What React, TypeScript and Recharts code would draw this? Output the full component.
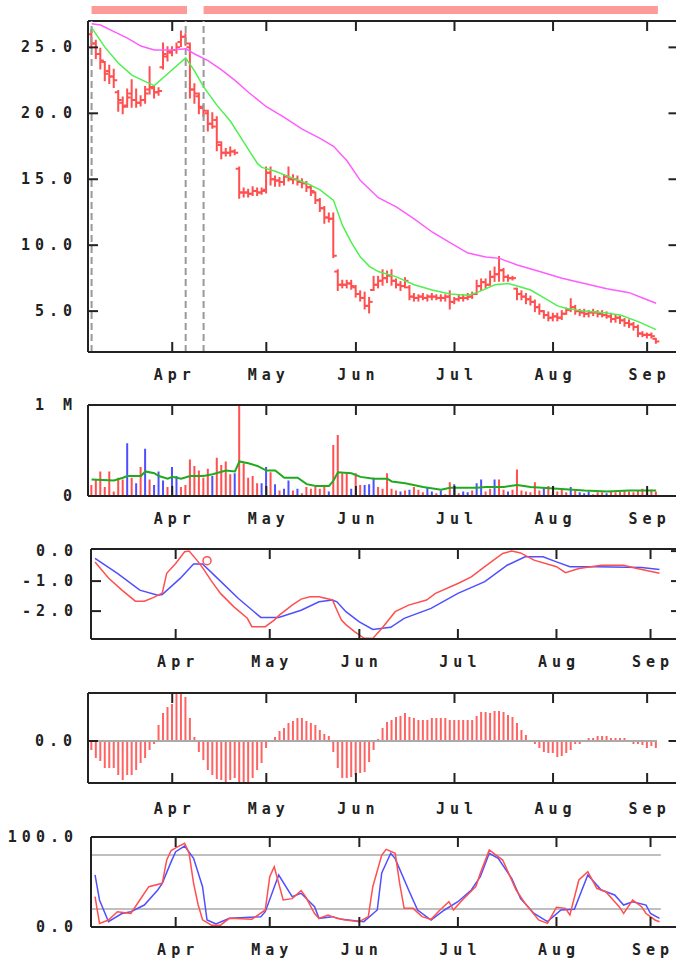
import {
  ComposedChart,
  Bar,
  Line,
  XAxis,
  YAxis,
  ReferenceLine,
  ReferenceDot,
  Cell,
} from 'recharts';

// ---- session calendar (trading-day index) ----
const monthTicks = [18, 39, 59, 81, 103, 124];
const monthNames = ['Apr', 'May', 'Jun', 'Jul', 'Aug', 'Sep'];
const periodStart = [0, 25];
const periodEnd = [21.3, 126.4];
const markerDays = [0, 21, 25];

// ---- daily prices ----
const priceOpen = [
  26.0, 25.3, 24.5, 23.9, 23.2, 22.8, 21.6, 20.8, 20.6, 21.5,
  21.0, 20.8, 21.0, 21.8, 21.9, 21.6, 23.5, 24.3, 24.6, 24.8,
  25.4, 25.8, 25.0, 21.8, 21.3, 20.4, 20.0, 19.2, 19.5, 17.6,
  17.0, 17.0, 17.1, 15.8, 14.0, 14.0, 13.9, 14.1, 14.0, 14.2,
  15.5, 15.0, 14.9, 14.8, 15.2, 15.0, 15.0, 14.8, 14.7, 14.4,
  14.0, 13.4, 12.8, 12.1, 12.0, 8.0, 7.0, 7.0, 7.1, 6.8,
  6.3, 6.0, 5.4, 6.6, 7.0, 7.3, 7.5, 7.7, 7.3, 7.0,
  6.9, 6.8, 6.1, 6.0, 6.1, 6.0, 6.1, 6.1, 6.0, 6.0,
  6.1, 5.7, 5.9, 6.0, 6.0, 6.1, 6.3, 6.9, 7.2, 7.0,
  7.6, 7.8, 8.1, 7.6, 7.5, 6.7, 6.3, 6.1, 5.9, 5.7,
  5.3, 5.0, 4.7, 4.5, 4.6, 4.5, 4.8, 5.1, 5.3, 5.0,
  4.9, 4.8, 4.9, 4.9, 4.8, 4.7, 4.6, 4.4, 4.5, 4.3,
  4.1, 4.0, 3.8, 3.3, 3.2, 3.2, 2.9,
];
const priceHigh = [
  26.3, 25.5, 24.9, 23.9, 23.6, 23.3, 21.7, 21.2, 21.8, 22.5,
  21.8, 21.3, 22.0, 23.5, 22.0, 21.9, 25.3, 25.0, 25.0, 25.3,
  26.2, 26.0, 25.3, 22.2, 21.5, 20.6, 20.2, 20.0, 19.7, 17.8,
  17.3, 17.4, 17.2, 15.9, 14.3, 14.2, 14.4, 14.3, 14.3, 15.9,
  15.9, 15.2, 15.1, 15.3, 15.9, 15.3, 15.2, 15.0, 14.8, 14.5,
  14.0, 13.5, 12.9, 12.4, 12.4, 8.1, 7.3, 7.3, 7.3, 6.9,
  6.5, 6.4, 6.0, 7.6, 7.6, 8.1, 8.0, 8.1, 7.4, 7.2,
  7.5, 6.9, 6.3, 6.2, 6.3, 6.2, 6.3, 6.2, 6.2, 6.2,
  6.5, 6.0, 6.2, 6.2, 6.3, 6.4, 7.3, 7.4, 7.4, 8.0,
  8.3, 9.1, 8.2, 7.7, 7.6, 6.7, 6.5, 6.3, 6.1, 5.8,
  5.5, 5.0, 4.9, 4.8, 4.8, 5.0, 5.2, 5.9, 5.4, 5.1,
  5.1, 5.0, 5.1, 5.0, 5.0, 4.9, 4.8, 4.7, 4.6, 4.4,
  4.3, 4.1, 3.9, 3.4, 3.3, 3.3, 2.9,
];
const priceLow = [
  25.0, 24.2, 23.4, 22.5, 22.3, 22.0, 20.2, 20.0, 20.5, 20.5,
  20.5, 20.6, 20.8, 21.5, 21.2, 21.4, 23.4, 24.0, 24.4, 24.6,
  25.1, 25.2, 21.2, 20.8, 20.0, 19.8, 18.7, 18.9, 17.2, 16.6,
  16.8, 16.8, 16.9, 13.6, 13.7, 13.7, 13.8, 13.8, 13.9, 14.0,
  14.6, 14.5, 14.5, 14.6, 14.9, 14.7, 14.6, 14.4, 14.1, 13.8,
  13.2, 12.6, 11.7, 11.8, 9.1, 6.6, 6.8, 6.8, 6.7, 6.1,
  5.8, 5.2, 4.9, 6.6, 6.8, 7.0, 7.2, 7.0, 6.8, 6.6,
  6.8, 5.9, 5.8, 5.8, 5.9, 5.8, 5.9, 5.9, 5.8, 5.8,
  5.2, 5.6, 5.8, 5.8, 5.9, 6.0, 6.3, 6.6, 6.8, 7.0,
  7.3, 7.3, 7.3, 7.3, 7.4, 5.9, 5.9, 5.6, 5.5, 5.0,
  4.8, 4.5, 4.3, 4.3, 4.3, 4.4, 4.8, 5.0, 4.8, 4.7,
  4.6, 4.6, 4.7, 4.6, 4.6, 4.5, 4.2, 4.2, 4.1, 3.9,
  3.8, 3.6, 3.1, 3.1, 3.0, 3.0, 2.6,
];
const priceClose = [
  25.3, 24.5, 24.0, 23.0, 22.8, 22.5, 21.0, 20.5, 21.2, 21.0,
  20.8, 21.0, 21.5, 22.0, 21.6, 21.7, 24.5, 24.7, 24.8, 25.0,
  25.8, 25.3, 21.8, 21.5, 20.5, 20.2, 19.2, 19.0, 17.8, 17.0,
  17.0, 17.1, 17.0, 14.0, 14.0, 13.9, 14.1, 14.0, 14.1, 15.5,
  15.0, 14.9, 14.8, 15.2, 15.0, 15.0, 14.8, 14.7, 14.4, 14.1,
  13.4, 12.8, 12.1, 12.0, 9.2, 7.0, 7.0, 7.1, 6.9, 6.3,
  6.0, 5.4, 5.7, 7.0, 7.3, 7.5, 7.7, 7.3, 7.0, 6.9,
  7.3, 6.1, 6.0, 6.1, 6.0, 6.1, 6.1, 6.0, 6.0, 6.1,
  5.7, 5.9, 6.0, 6.0, 6.1, 6.3, 6.9, 7.2, 7.0, 7.6,
  7.8, 8.1, 7.6, 7.5, 7.5, 6.3, 6.1, 5.9, 5.7, 5.3,
  5.0, 4.7, 4.5, 4.6, 4.5, 4.8, 5.1, 5.3, 5.0, 4.9,
  4.8, 4.9, 4.9, 4.8, 4.7, 4.6, 4.4, 4.5, 4.3, 4.1,
  4.0, 3.8, 3.3, 3.2, 3.2, 3.1, 2.7,
];

// moving averages, sampled by day
const fastDays = [0, 3, 6, 9, 12, 14, 17, 21, 23, 25, 28, 31, 34, 37, 38, 41, 44, 48, 51, 54, 56, 58, 60, 62, 64, 68, 72, 76, 80, 84, 86, 90, 93, 95, 98, 101, 104, 106, 110, 114, 118, 122, 126];
const fastVals = [26.5, 25.0, 23.8, 22.9, 22.4, 22.1, 23.0, 24.2, 23.2, 22.0, 20.6, 19.4, 17.8, 16.2, 15.9, 15.6, 15.2, 14.7, 14.2, 13.4, 11.5, 10.2, 9.1, 8.4, 8.0, 7.6, 7.0, 6.6, 6.3, 6.2, 6.4, 7.0, 7.1, 6.9, 6.6, 6.0, 5.4, 5.2, 5.0, 4.9, 4.7, 4.2, 3.6];
const slowDays = [0, 2, 5, 8, 11, 14, 18, 21, 23, 26, 29, 32, 35, 39, 43, 47, 51, 54, 57, 60, 64, 68, 72, 76, 80, 84, 88, 91, 95, 100, 105, 110, 115, 120, 123, 126];
const slowVals = [26.8, 26.7, 26.2, 25.7, 25.1, 24.8, 24.8, 24.9, 24.5, 24.0, 23.3, 22.5, 21.6, 20.5, 19.7, 18.8, 18.1, 17.5, 16.4, 14.9, 13.6, 12.9, 12.0, 11.0, 10.2, 9.4, 9.1, 9.0, 8.5, 8.0, 7.5, 7.1, 6.7, 6.4, 6.0, 5.6];

// ---- volume (millions), 1 = up day ----
const volume = [
  0.12, 0.18, 0.27, 0.10, 0.27, 0.05, 0.20, 0.18, 0.58, 0.20,
  0.14, 0.32, 0.52, 0.18, 0.12, 0.27, 0.17, 0.10, 0.32, 0.22,
  0.10, 0.12, 0.40, 0.33, 0.28, 0.20, 0.30, 0.22, 0.42, 0.34,
  0.38, 0.24, 0.25, 1.00, 0.36, 0.20, 0.22, 0.14, 0.14, 0.32,
  0.26, 0.13, 0.06, 0.08, 0.17, 0.06, 0.08, 0.03, 0.10, 0.08,
  0.10, 0.08, 0.10, 0.05, 0.56, 0.67, 0.25, 0.25, 0.08, 0.25,
  0.12, 0.12, 0.13, 0.20, 0.10, 0.08, 0.25, 0.08, 0.06, 0.05,
  0.06, 0.07, 0.10, 0.07, 0.04, 0.09, 0.05, 0.03, 0.06, 0.02,
  0.15, 0.13, 0.03, 0.05, 0.04, 0.06, 0.14, 0.18, 0.05, 0.08,
  0.18, 0.18, 0.07, 0.05, 0.07, 0.29, 0.06, 0.05, 0.04, 0.15,
  0.06, 0.10, 0.11, 0.04, 0.05, 0.07, 0.04, 0.10, 0.06, 0.04,
  0.03, 0.05, 0.02, 0.04, 0.04, 0.03, 0.05, 0.04, 0.05, 0.06,
  0.05, 0.04, 0.06, 0.08, 0.05, 0.07, 0.05,
];
const volumeUp = [
  1, 1, 1, 1, 1, 1, 1, 1, 0, 1,
  0, 1, 0, 1, 0, 0, 0, 1, 0, 0,
  1, 1, 1, 1, 1, 1, 1, 0, 1, 1,
  1, 1, 0, 1, 1, 1, 1, 1, 0, 0,
  1, 0, 1, 0, 0, 1, 0, 1, 1, 1,
  1, 1, 1, 0, 1, 1, 1, 1, 0, 1,
  1, 0, 0, 0, 1, 1, 1, 1, 1, 0,
  1, 0, 1, 1, 1, 0, 0, 1, 0, 1,
  1, 0, 1, 0, 0, 1, 0, 0, 1, 1,
  0, 1, 1, 0, 1, 1, 1, 1, 1, 1,
  1, 0, 1, 1, 1, 1, 1, 0, 1, 0,
  0, 0, 1, 1, 1, 0, 1, 1, 1, 1,
  1, 1, 1, 1, 1, 1, 1,
];
const volMaDays = [0, 5, 7, 8, 11, 12, 14, 15, 17, 18, 20, 22, 25, 27, 30, 32, 33, 35, 37, 39, 41, 43, 46, 48, 50, 53, 54, 55, 58, 60, 63, 66, 67, 70, 74, 78, 80, 86, 88, 92, 95, 98, 104, 110, 115, 120, 126];
const volMaVals = [0.18, 0.17, 0.2, 0.22, 0.22, 0.27, 0.25, 0.22, 0.19, 0.21, 0.19, 0.22, 0.22, 0.24, 0.28, 0.27, 0.38, 0.36, 0.33, 0.28, 0.28, 0.2, 0.2, 0.13, 0.11, 0.11, 0.17, 0.26, 0.25, 0.21, 0.19, 0.19, 0.16, 0.14, 0.1, 0.07, 0.09, 0.09, 0.1, 0.1, 0.12, 0.1, 0.08, 0.06, 0.05, 0.06, 0.06];

// ---- MACD / signal ----
const macdDays = [0, 3, 6, 9, 11, 13, 15, 16, 18, 20, 21, 23, 24, 26, 28, 31, 34, 35, 38, 40, 41, 44, 46, 48, 50, 53, 54, 55, 56, 58, 60, 62, 64, 67, 70, 74, 76, 81, 84, 87, 91, 93, 95, 98, 103, 105, 108, 113, 118, 121, 126];
const macdVals = [-0.36, -0.9, -1.3, -1.67, -1.67, -1.55, -1.4, -0.74, -0.41, -0.02, 0.0, -0.35, -0.55, -1.0, -1.41, -1.86, -2.24, -2.52, -2.52, -2.3, -2.15, -1.8, -1.6, -1.52, -1.52, -1.63, -1.97, -2.3, -2.45, -2.69, -2.9, -2.91, -2.58, -2.02, -1.8, -1.63, -1.41, -1.08, -0.86, -0.52, -0.08, 0.0, -0.06, -0.3, -0.52, -0.72, -0.58, -0.47, -0.47, -0.58, -0.74];
const signalDays = [0, 5, 10, 14, 15, 19, 22, 24, 27, 32, 37, 41, 46, 50, 53, 54, 56, 59, 62, 66, 69, 75, 81, 87, 92, 96, 100, 103, 106, 112, 122, 126];
const signalVals = [-0.24, -0.74, -1.3, -1.47, -1.45, -0.91, -0.43, -0.43, -0.86, -1.58, -2.21, -2.21, -1.97, -1.69, -1.63, -1.69, -2.02, -2.36, -2.61, -2.54, -2.24, -1.91, -1.41, -1.02, -0.47, -0.19, -0.19, -0.36, -0.52, -0.52, -0.55, -0.61];
const crossDay = 25;
const crossValue = -0.32;

// ---- oscillator histogram ----
const histogram = [
  -0.09, -0.17, -0.2, -0.27, -0.27, -0.27, -0.34, -0.39, -0.34, -0.34,
  -0.29, -0.22, -0.17, -0.09, -0.03, 0.16, 0.28, 0.34, 0.37, 0.5,
  0.5, 0.44, 0.23, 0.04, -0.11, -0.19, -0.29, -0.34, -0.38, -0.39,
  -0.41, -0.39, -0.37, -0.41, -0.45, -0.41, -0.37, -0.29, -0.22, -0.07,
  0, 0.04, 0.1, 0.13, 0.18, 0.2, 0.23, 0.23, 0.2, 0.18,
  0.16, 0.11, 0.07, 0.05, -0.11, -0.27, -0.37, -0.37, -0.36, -0.34,
  -0.32, -0.31, -0.21, -0.09, 0.02, 0.13, 0.19, 0.21, 0.24, 0.25,
  0.28, 0.24, 0.23, 0.21, 0.21, 0.21, 0.23, 0.23, 0.23, 0.23,
  0.21, 0.21, 0.21, 0.21, 0.21, 0.21, 0.25, 0.29, 0.29, 0.28,
  0.3, 0.3, 0.29, 0.26, 0.24, 0.18, 0.11, 0.06, 0, -0.03,
  -0.07, -0.11, -0.12, -0.12, -0.16, -0.15, -0.12, -0.09, -0.03, -0.03,
  0, 0.03, 0.03, 0.05, 0.05, 0.05, 0.03, 0.03, 0.03, 0.03,
  0, -0.03, -0.03, -0.04, -0.07, -0.05, -0.07,
];

// ---- stochastic %K / %D ----
const kDays = [0, 1, 3, 5, 8, 10, 12, 15, 16, 17, 18, 20, 21, 22, 23, 24, 26, 28, 30, 35, 38, 39, 40, 42, 44, 46, 47, 49, 50, 52, 54, 56, 59, 61, 62, 64, 65, 67, 68, 69, 71, 73, 75, 77, 79, 80, 82, 85, 86, 88, 89, 91, 94, 96, 99, 101, 103, 105, 106, 108, 110, 112, 114, 117, 118, 120, 122, 123, 125, 126];
const kVals = [33.7, 4, 7.8, 17, 15, 30, 44.8, 48.5, 74.4, 85, 88, 93, 81.9, 48.5, 25, 8, 2, 2, 9.6, 8.5, 18.9, 55.9, 67, 30, 31.5, 40.4, 33.7, 15, 9.6, 13.3, 9.6, 7.8, 5.9, 11.5, 44.8, 80, 86.3, 81.9, 48.5, 20.7, 20.7, 11.5, 8.5, 18.9, 28.1, 18.9, 30, 44.8, 59.6, 85.6, 81.9, 74.4, 41.1, 26.3, 7.8, 4, 21.9, 20.7, 13.3, 52.2, 61.5, 43, 39.2, 22.6, 15, 30, 22.6, 15, 7.8, 5.9];
const dDays = [0, 1, 3, 6, 8, 11, 14, 15, 17, 18, 20, 22, 24, 25, 27, 30, 37, 38, 41, 44, 46, 49, 50, 53, 55, 60, 63, 64, 66, 67, 70, 72, 75, 78, 81, 84, 86, 88, 90, 93, 95, 98, 101, 104, 107, 110, 113, 116, 118, 120, 123, 124, 126];
const dVals = [57.8, 30, 5.9, 15, 17, 24.4, 41.1, 48.5, 72.6, 83.7, 90, 76.3, 44.8, 7.8, 3.3, 9.6, 11.5, 17, 57.8, 33.7, 37.4, 22.6, 9.6, 11.5, 8.5, 5.9, 18.9, 60, 81.9, 76, 41.1, 18.9, 7.8, 18.9, 28.1, 41.1, 55.9, 81.9, 76.3, 54, 31.5, 15, 5.9, 18.9, 19.6, 57.8, 41.1, 35.6, 24.4, 28.1, 24.4, 15, 9.6];
const stochBands = [20, 80];

// ---- styling ----
const INK = '#222';
const RED = '#ff4f4f';
const BLUE = '#4f4fff';
const REF_GRAY = '#aaaaaa';
const LS = 5;
const textStyle = {
  fontFamily: '"DejaVu Sans Mono", monospace',
  fontSize: 15,
  fontWeight: 700,
  fill: INK,
  letterSpacing: LS,
};
const CHART_W = 690;
const PAD_TOP = 14;
const AXIS_H = 40;

const days = priceClose.map((c, i) => ({
  day: i,
  range: [priceLow[i], priceHigh[i]],
  open: priceOpen[i],
  close: c,
  vol: volume[i],
  hist: histogram[i],
}));
const pts = (d: number[], v: number[]) => d.map((day, k) => ({ day, v: v[k] }));

function OhlcShape(props: any) {
  const { x, y, width, height, payload } = props;
  if (x == null || y == null) return null;
  const top = Math.min(y, y + height);
  const h = Math.abs(height);
  const cx = x + width / 2;
  const [lo, hi] = payload.range;
  const span = hi - lo || 1;
  const yOpen = top + ((hi - payload.open) / span) * h;
  const yClose = top + ((hi - payload.close) / span) * h;
  return (
    <g stroke={RED} strokeWidth={2}>
      <line x1={cx} x2={cx} y1={top - 1} y2={top + h + 1} />
      <line x1={cx - 3.5} x2={cx} y1={yOpen} y2={yOpen} />
      <line x1={cx} x2={cx + 3.5} y1={yClose} y2={yClose} />
    </g>
  );
}

function makeMonthTick(plotH: number, gap: number) {
  return (props: any) => {
    const { x, y, payload } = props;
    const k = monthTicks.indexOf(payload.value);
    return (
      <g>
        <line x1={x} x2={x} y1={y} y2={y - 10} stroke={INK} strokeWidth={2} />
        <line x1={x} x2={x} y1={y - plotH} y2={y - plotH + 10} stroke={INK} strokeWidth={2} />
        <text x={x + LS / 2} y={y + gap} textAnchor="middle" dominantBaseline="central" style={textStyle}>
          {monthNames[k]}
        </text>
      </g>
    );
  };
}

function makeValueTick(
  fmt: (v: number) => string,
  inner: number[],
  right: number[],
  plotW: number,
  gap: number,
) {
  return (props: any) => {
    const { x, y, payload } = props;
    const v = payload.value;
    return (
      <g>
        <text x={x - gap + LS} y={y} textAnchor="end" dominantBaseline="central" style={textStyle}>
          {fmt(v)}
        </text>
        {inner.includes(v) && <line x1={x} x2={x + 10} y1={y} y2={y} stroke={INK} strokeWidth={2} />}
        {right.includes(v) && (
          <line x1={x + plotW - 10} x2={x + plotW} y1={y} y2={y} stroke={INK} strokeWidth={2} />
        )}
      </g>
    );
  };
}

type Frame = { top: number; plotH: number; left: number; right: number; xMin: number; xMax: number; gap: number };

const wide: Frame = { top: 21, plotH: 331, left: 88, right: 678.5, xMin: -0.8, xMax: 131, gap: 23 };
const volFrame: Frame = { ...wide, top: 405, plotH: 91 };
const macdFrame: Frame = { top: 549, plotH: 90, left: 91, right: 681, xMin: -0.9, xMax: 130.8, gap: 23 };
const histFrame: Frame = { ...wide, top: 693, plotH: 90, gap: 26 };
const stochFrame: Frame = { ...macdFrame, top: 837, plotH: 90 };

function chartProps(f: Frame) {
  return {
    width: CHART_W,
    height: PAD_TOP + f.plotH + AXIS_H,
    data: days,
    margin: { top: PAD_TOP, right: CHART_W - f.right, bottom: 0, left: 0 },
  };
}

function monthAxis(f: Frame) {
  return (
    <XAxis
      dataKey="day"
      type="number"
      domain={[f.xMin, f.xMax]}
      allowDataOverflow
      ticks={monthTicks}
      interval={0}
      height={AXIS_H}
      tickSize={0}
      tickMargin={0}
      tickLine={false}
      axisLine={{ stroke: INK, strokeWidth: 2 }}
      tick={makeMonthTick(f.plotH, f.gap)}
    />
  );
}

function valueAxis(
  f: Frame,
  domain: [number, number],
  ticks: number[],
  fmt: (v: number) => string,
  inner: number[],
  right: number[],
) {
  return (
    <YAxis
      type="number"
      domain={domain}
      allowDataOverflow
      ticks={ticks}
      interval={0}
      width={f.left}
      tickSize={0}
      tickMargin={0}
      tickLine={false}
      axisLine={{ stroke: INK, strokeWidth: 2 }}
      tick={makeValueTick(fmt, inner, right, f.right - f.left, f.left === 88 ? 16 : 18)}
    />
  );
}

const one = (v: number) => v.toFixed(1);

// salmon bars above the price panel, one per marked period
function PeriodStrip() {
  return (
    <ComposedChart
      width={CHART_W}
      height={21}
      data={days}
      margin={{ top: 6, right: CHART_W - wide.right, bottom: 7, left: wide.left }}
    >
      <XAxis dataKey="day" type="number" domain={[wide.xMin, wide.xMax]} allowDataOverflow hide />
      <YAxis type="number" domain={[0, 1]} hide />
      {periodStart.map((s, k) => (
        <Line
          key={k}
          data={[
            { day: s, v: 0.5 },
            { day: periodEnd[k], v: 0.5 },
          ]}
          dataKey="v"
          stroke="#ff9a9a"
          strokeWidth={8}
          strokeLinecap="butt"
          dot={false}
          isAnimationActive={false}
        />
      ))}
    </ComposedChart>
  );
}

function PriceChart() {
  const f = wide;
  return (
    <ComposedChart {...chartProps(f)}>
      {monthAxis(f)}
      {valueAxis(f, [1.9, 27], [5, 10, 15, 20, 25], one, [5, 10, 15, 20, 25], [5, 10, 15, 20, 25])}
      <ReferenceLine y={27} stroke={INK} strokeWidth={2} />
      {markerDays.map((d) => (
        <ReferenceLine key={d} x={d} stroke="#999" strokeWidth={2} strokeDasharray="7 4" />
      ))}
      <Bar dataKey="range" barSize={2} shape={OhlcShape} isAnimationActive={false} />
      <Line data={pts(slowDays, slowVals)} dataKey="v" stroke="#ff5cff" strokeWidth={1.5} dot={false} isAnimationActive={false} />
      <Line data={pts(fastDays, fastVals)} dataKey="v" stroke="#4ff04f" strokeWidth={1.5} dot={false} isAnimationActive={false} />
    </ComposedChart>
  );
}

function VolumeChart() {
  const f = volFrame;
  return (
    <ComposedChart {...chartProps(f)}>
      {monthAxis(f)}
      {valueAxis(f, [0, 1], [0, 1], (v) => (v === 0 ? '0' : '1 M'), [], [])}
      <ReferenceLine y={1} stroke={INK} strokeWidth={2} />
      <Bar dataKey="vol" barSize={2} isAnimationActive={false}>
        {days.map((_, i) => (
          <Cell key={i} fill={volumeUp[i] ? RED : BLUE} />
        ))}
      </Bar>
      <Line data={pts(volMaDays, volMaVals)} dataKey="v" stroke="#1faa1f" strokeWidth={2} dot={false} isAnimationActive={false} />
    </ComposedChart>
  );
}

function MacdChart() {
  const f = macdFrame;
  return (
    <ComposedChart {...chartProps(f)}>
      {monthAxis(f)}
      {valueAxis(f, [-2.93, 0.07], [0, -1, -2], one, [-1, -2], [0, -1, -2])}
      <ReferenceLine y={0.07} stroke={INK} strokeWidth={2} />
      <Line data={pts(signalDays, signalVals)} dataKey="v" stroke={BLUE} strokeWidth={1.5} dot={false} isAnimationActive={false} />
      <Line data={pts(macdDays, macdVals)} dataKey="v" stroke={RED} strokeWidth={1.5} dot={false} isAnimationActive={false} />
      <ReferenceDot x={crossDay} y={crossValue} r={4} fill="none" stroke={RED} strokeWidth={1.5} />
    </ComposedChart>
  );
}

function HistogramChart() {
  const f = histFrame;
  return (
    <ComposedChart {...chartProps(f)}>
      {monthAxis(f)}
      {valueAxis(f, [-0.42, 0.48], [0], one, [0], [0])}
      <ReferenceLine y={0.48} stroke={INK} strokeWidth={2} />
      <Bar dataKey="hist" barSize={2} fill="#ff6464" isAnimationActive={false} />
      <ReferenceLine
        segment={[
          { x: f.xMin, y: 0 },
          { x: 126.2, y: 0 },
        ]}
        stroke={REF_GRAY}
        strokeWidth={2}
      />
    </ComposedChart>
  );
}

function StochChart() {
  const f = stochFrame;
  return (
    <ComposedChart {...chartProps(f)}>
      {monthAxis(f)}
      {valueAxis(f, [0, 100], [0, 100], one, [], [])}
      <ReferenceLine y={100} stroke={INK} strokeWidth={2} />
      {stochBands.map((b) => (
        <ReferenceLine
          key={b}
          segment={[
            { x: f.xMin, y: b },
            { x: 126.3, y: b },
          ]}
          stroke={REF_GRAY}
          strokeWidth={1.5}
        />
      ))}
      <Line data={pts(dDays, dVals)} dataKey="v" stroke={BLUE} strokeWidth={1.5} dot={false} isAnimationActive={false} />
      <Line data={pts(kDays, kVals)} dataKey="v" stroke={RED} strokeWidth={1.5} dot={false} isAnimationActive={false} />
    </ComposedChart>
  );
}

const place = (top: number) => ({ position: 'absolute' as const, left: 0, top });

export default function App() {
  return (
    <div style={{ position: 'relative', width: 676, height: 962, overflow: 'hidden', background: '#fff' }}>
      <style>{'body{margin:0;overflow:hidden;background:#fff}'}</style>
      <div style={place(0)}>
        <PeriodStrip />
      </div>
      <div style={place(wide.top - PAD_TOP)}>
        <PriceChart />
      </div>
      <div style={place(volFrame.top - PAD_TOP)}>
        <VolumeChart />
      </div>
      <div style={place(macdFrame.top - PAD_TOP)}>
        <MacdChart />
      </div>
      <div style={place(histFrame.top - PAD_TOP)}>
        <HistogramChart />
      </div>
      <div style={place(stochFrame.top - PAD_TOP)}>
        <StochChart />
      </div>
    </div>
  );
}
